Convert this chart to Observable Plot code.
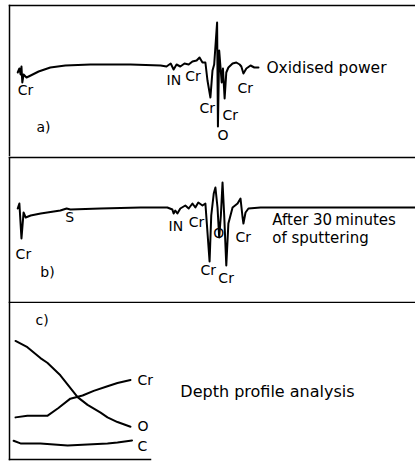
<!DOCTYPE html>
<html><head><meta charset="utf-8">
<script src="https://cdn.jsdelivr.net/npm/d3@7"></script>
<script src="https://cdn.jsdelivr.net/npm/@observablehq/plot@0.6"></script>
<style>body{margin:0;background:#fff} #chart svg{display:block}</style>
</head><body><div id="chart"></div><script>
// Panel a: Auger spectrum, oxidised powder (energy eV, dN/dE arbitrary)
const energyA = [34,38,41,43,45,48,55,65,84,112,148,208,304,376,390,400,407,414,423,433,443,452,462,469,476,483,488,495,500,504,508,511,513,516,519,522,525,529,533,538,548,557,565,569,574,581,591,600,610];
const signalA = [-0.5,-0.1,-0.7,0.1,-1.5,-0.7,-1.0,-0.8,-0.4,0,0.2,0.3,0.3,0.2,0.1,0.4,-0.2,0.3,0.1,0.4,0.3,0.6,0.7,1.0,0.5,0.5,-1.3,-3.0,-0.3,0.3,2.7,4.5,-5.9,1.7,0.1,-1.5,-0.1,-3.1,-0.5,0,0.4,0.5,0.3,0.1,-0.6,-0.1,0.2,0,0];
const peakLabelsA = ["Cr","IN","Cr","Cr","Cr","O","Cr"];
const peakEnergyA = [34,390,435,469,524,512,560];
const peakLevelA = [-2.3,-1.3,-0.9,-4.1,-4.8,-6.8,-2.1];

// Panel b: after 30 minutes of sputtering
const energyB = [34,38,43,48,53,65,89,136,151,160,232,328,392,404,407,411,416,423,435,443,452,459,466,476,483,493,497,503,507,512,516,520,524,528,533,538,548,560,567,572,574,579,586,615,710,986];
const signalB = [-0.1,0.4,-3.1,-0.5,-1.0,-0.8,-0.6,-0.3,-0.1,-0.2,-0.1,0,0,-0.2,-0.6,-0.3,-0.6,-0.1,0.2,-0.1,0.4,0,0.5,0.2,0.4,-5.4,-0.8,1.4,2.0,0,-3.0,-0.8,2.5,-0.8,-5.8,-1.6,0,0.4,0.9,-1.0,-1.6,-0.5,-0.1,0,0,0];
const peakLabelsB = ["Cr","S","IN","Cr","O","Cr","Cr","Cr"];
const peakEnergyB = [29,148,395,443,502,555,471,514];
const peakLevelB = [-4.7,-1.0,-1.9,-1.5,-2.6,-3.0,-6.3,-7.1];

// Panel c: depth profile (sputter time, concentration)
const timeO = [0,3.1,6.5,8.3,11.7,16.2,18.8,22.2,24,26.6,30];
const concO = [76,72,65,62,54,40,35,30,27,24,21];
const timeCr = [0,3.1,8.3,11.2,14.3,17.5,20.4,24,26.6,30];
const concCr = [27,28,28,33,39,41,44,47,49,51];
const timeC = [-0.5,1.3,6.5,13.6,18.8,24,26.6,30.4];
const concC = [12,10.3,10.3,9,9.6,10.3,10.9,12.2];
const endLabelsC = ["Cr","O","C"];
const endLevelC = [50.6,21.2,8.3];

const font = "DejaVu Sans";
const zip = (xs, ys) => xs.map((x, i) => ({x, y: ys[i]}));
const trio = (ls, xs, ys) => ls.map((t, i) => ({t, x: xs[i], y: ys[i]}));

const panelA = Plot.plot({
  width: 415, height: 156, marginTop: 5, marginBottom: 0, marginLeft: 9, marginRight: 0,
  style: {fontFamily: font, background: "white", color: "black"},
  x: {domain: [0, 1000], range: [3, 421], axis: null},
  y: {domain: [-8.9, 6.2], axis: null},
  marks: [
    Plot.frame({anchor: "top", stroke: "black", strokeWidth: 1.5}),
    Plot.frame({anchor: "left", stroke: "black", strokeWidth: 1.5}),
    Plot.line(zip(energyA, signalA), {x: "x", y: "y", stroke: "black", strokeWidth: 2}),
    Plot.text(trio(peakLabelsA, peakEnergyA, peakLevelA), {x: "x", y: "y", text: "t", textAnchor: "start", fontSize: 14, fill: "black"}),
    Plot.text(["a)"], {x: 79, y: -6.0, text: d => d, textAnchor: "start", fontSize: 14, fill: "black"}),
    Plot.text(["Oxidised power"], {x: 629, y: -0.1, text: d => d, textAnchor: "start", fontSize: 15.5, fill: "black"})
  ]
});

const panelB = Plot.plot({
  width: 415, height: 147, marginTop: 1, marginBottom: 1, marginLeft: 9, marginRight: 0,
  style: {fontFamily: font, background: "white", color: "black"},
  x: {domain: [0, 1000], range: [3, 421], axis: null},
  y: {domain: [-9.5, 5.0], axis: null},
  marks: [
    Plot.frame({anchor: "top", stroke: "black", strokeWidth: 1.5}),
    Plot.frame({anchor: "bottom", stroke: "black", strokeWidth: 1.5}),
    Plot.frame({anchor: "left", stroke: "black", strokeWidth: 1.5}),
    Plot.line(zip(energyB, signalB), {x: "x", y: "y", stroke: "black", strokeWidth: 2}),
    Plot.text(trio(peakLabelsB, peakEnergyB, peakLevelB), {x: "x", y: "y", text: "t", textAnchor: "start", fontSize: 14, fill: "black"}),
    Plot.text(["b)"], {x: 88, y: -6.5, text: d => d, textAnchor: "start", fontSize: 14, fill: "black"}),
    Plot.text(["After 30\u2009minutes", "of sputtering"], {x: 643, y: [-1.3, -3.1], text: d => d, textAnchor: "start", fontSize: 15, fill: "black"})
  ]
});

const panelC = Plot.plot({
  width: 415, height: 159, marginTop: 0, marginBottom: 3, marginLeft: 9, marginRight: 265,
  style: {fontFamily: font, background: "white", color: "black", overflow: "visible"},
  x: {domain: [0, 30], range: [15, 130], axis: null},
  y: {domain: [0, 100], axis: null},
  marks: [
    Plot.frame({anchor: "left", stroke: "black", strokeWidth: 1.5}),
    Plot.frame({anchor: "bottom", stroke: "black", strokeWidth: 1.5}),
    Plot.line(zip(timeO, concO), {x: "x", y: "y", stroke: "black", strokeWidth: 2}),
    Plot.line(zip(timeCr, concCr), {x: "x", y: "y", stroke: "black", strokeWidth: 2}),
    Plot.line(zip(timeC, concC), {x: "x", y: "y", stroke: "black", strokeWidth: 2}),
    Plot.text(endLabelsC.map((t, i) => ({t, y: endLevelC[i]})), {x: 31.8, y: "y", text: "t", textAnchor: "start", fontSize: 14, fill: "black"}),
    Plot.text(["c)"], {x: 5.2, y: 89, text: d => d, textAnchor: "start", fontSize: 14, fill: "black"}),
    Plot.text(["Depth profile analysis"], {x: 43, y: 43.6, text: d => d, textAnchor: "start", fontSize: 16, fill: "black"})
  ]
});

const root = document.getElementById("chart");
root.append(panelA, panelB, panelC);
</script></body></html>
